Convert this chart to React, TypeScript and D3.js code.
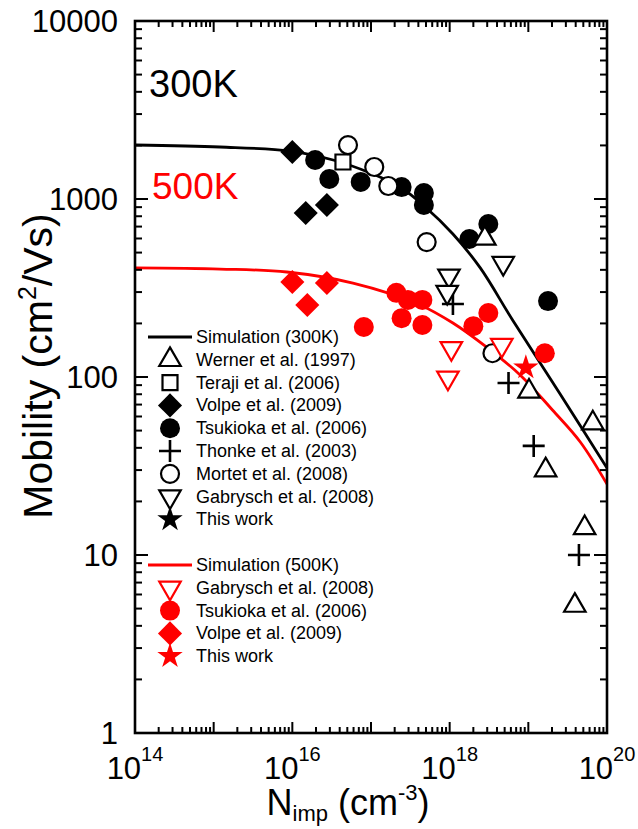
import React from "react";
import * as d3 from "d3";

// ---------- data ----------
const sim300N = [1e14, 1.2e15, 9.3e15, 3.3e16, 9.8e16, 2.34e17, 4.9e17, 1.1e18, 2.45e18, 6.3e18, 2.5e19, 1e20];
const sim300Mu = [2011, 1960, 1860, 1656, 1400, 1167, 902, 636, 410, 209, 81, 30.8];
const sim500N = [1e14, 1.2e15, 8.5e15, 5.9e16, 4.2e17, 1.1e18, 2.95e18, 7.8e18, 2.04e19, 4.6e19, 1e20];
const sim500Mu = [410, 404, 389, 337, 254, 201, 147, 103, 65, 43, 25];

const wernerN = [2.8e18, 1.02e19, 6.6e19, 1.66e19, 5.2e19, 3.9e19];
const wernerMu = [600, 83, 55, 30, 14.2, 5.2];
const terajiN = [4.4e16];
const terajiMu = [1614];
const volpe300N = [1.0e16, 1.48e16, 2.75e16];
const volpe300Mu = [1837, 834, 925];
const tsukioka300N = [1.95e16, 2.95e16, 7.4e16, 2.45e17, 4.7e17, 4.7e17, 1.78e18, 3.1e18, 1.78e19];
const tsukioka300Mu = [1656, 1295, 1247, 1167, 1081, 925, 596, 724, 267];
const thonkeN = [1.1e18, 5.6e18, 1.17e19, 4.4e19];
const thonkeMu = [257, 92.5, 41, 10];
const mortetN = [5.1e16, 1.1e17, 1.66e17, 5.1e17, 3.5e18];
const mortetMu = [2010, 1513, 1183, 573, 136];
const gabrysch300N = [9.8e17, 9.3e17, 4.8e18];
const gabrysch300Mu = [370, 300, 436];

const gabrysch500N = [1.05e18, 9.5e17, 4.6e18];
const gabrysch500Mu = [145, 99, 151];
const tsukioka500N = [2.1e17, 2.95e17, 4.5e17, 2.45e17, 4.5e17, 8.1e16, 2.0e18, 3.1e18, 1.62e19];
const tsukioka500Mu = [297, 271, 271, 214, 196, 191, 193, 229, 136];
const volpe500N = [1.0e16, 2.75e16, 1.55e16];
const volpe500Mu = [342, 337, 254];
const thisWork500N = [9.3e18];
const thisWork500Mu = [113];

const xTickExps = [14, 15, 16, 17, 18, 19, 20];
const xLabelExps = [14, 16, 18, 20];
const yTickExps = [0, 1, 2, 3, 4];
const yTickLabels = ["1", "10", "100", "1000", "10000"];

const legend300 = [
  "Simulation (300K)",
  "Werner et al. (1997)",
  "Teraji et al. (2006)",
  "Volpe et al. (2009)",
  "Tsukioka et al. (2006)",
  "Thonke et al. (2003)",
  "Mortet et al. (2008)",
  "Gabrysch et al. (2008)",
  "This work",
];
const legend500 = [
  "Simulation (500K)",
  "Gabrysch et al. (2008)",
  "Tsukioka et al. (2006)",
  "Volpe et al. (2009)",
  "This work",
];

// ---------- layout ----------
const W = 638;
const H = 829;
const L = 135, R = 607, T = 21, B = 733;
const FONT = "'Liberation Sans', Arial, Helvetica, sans-serif";
const RED = "#ff0000";

const x = d3.scaleLog().domain([1e14, 1e20]).range([L, R]);
const y = d3.scaleLog().domain([1, 10000]).range([B, T]);

type Kind = "circle" | "ocircle" | "square" | "diamond" | "tri" | "tridown" | "plus" | "star";

function Marker({ kind, cx, cy, color }: { kind: Kind; cx: number; cy: number; color: string }) {
  const sw = 2.2;
  if (kind === "circle")
    return <circle cx={cx} cy={cy} r={10} fill={color} />;
  if (kind === "ocircle")
    return <circle cx={cx} cy={cy} r={9} fill="white" stroke={color} strokeWidth={sw} />;
  if (kind === "square")
    return <path d={d3.symbol(d3.symbolSquare, 225)()!} transform={`translate(${cx},${cy})`} fill="white" stroke={color} strokeWidth={sw} />;
  if (kind === "diamond")
    return <path d={d3.symbol(d3.symbolSquare, 290)()!} transform={`translate(${cx},${cy}) rotate(45)`} fill={color} />;
  if (kind === "tri")
    return <path d={d3.symbol(d3.symbolTriangle, 200)()!} transform={`translate(${cx},${cy})`} fill="white" stroke={color} strokeWidth={sw} />;
  if (kind === "tridown")
    return <path d={d3.symbol(d3.symbolTriangle, 200)()!} transform={`translate(${cx},${cy}) rotate(180)`} fill="white" stroke={color} strokeWidth={sw} />;
  if (kind === "plus")
    return <path d={`M${cx - 11},${cy}H${cx + 11}M${cx},${cy - 11}V${cy + 11}`} stroke={color} strokeWidth={2.6} fill="none" />;
  return <path d={d3.symbol(d3.symbolStar, 200)()!} transform={`translate(${cx},${cy})`} fill={color} />;
}

function Series({ N, Mu, kind, color }: { N: number[]; Mu: number[]; kind: Kind; color: string }) {
  return (
    <g>
      {N.map((n, i) => (
        <Marker key={i} kind={kind} cx={x(n)} cy={y(Mu[i])} color={color} />
      ))}
    </g>
  );
}

export default function App() {
  const path300 = d3
    .line<number>()
    .x((_, i) => x(sim300N[i]))
    .y((d) => y(d))
    .curve(d3.curveCatmullRom.alpha(0.5))(sim300Mu);
  const path500 = d3
    .line<number>()
    .x((_, i) => x(sim500N[i]))
    .y((d) => y(d))
    .curve(d3.curveCatmullRom.alpha(0.5))(sim500Mu);

  // ticks
  const xMinor: number[] = [];
  for (let e = 14; e < 20; e++) for (let k = 2; k <= 9; k++) xMinor.push(k * Math.pow(10, e));
  const yMinor: number[] = [];
  for (let e = 0; e < 4; e++) for (let k = 2; k <= 9; k++) yMinor.push(k * Math.pow(10, e));

  const legendSym300: (Kind | "line")[] = ["line", "tri", "square", "diamond", "circle", "plus", "ocircle", "tridown", "star"];
  const legendSym500: (Kind | "line")[] = ["line", "tridown", "circle", "diamond", "star"];
  const leg300Y = 337, leg500Y = 565, legStep = 22.8;
  const symX = 170;

  return (
    <svg width={W} height={H} style={{ position: "absolute", left: 0, top: 0, background: "white" }} fontFamily={FONT}>
      <rect x={0} y={0} width={W} height={H} fill="white" />
      <defs>
        <clipPath id="plotclip">
          <rect x={L} y={T} width={R - L} height={B - T} />
        </clipPath>
      </defs>
      {/* simulation curves */}
      <g clipPath="url(#plotclip)">
        <path d={path300!} fill="none" stroke="black" strokeWidth={2.8} />
        <path d={path500!} fill="none" stroke={RED} strokeWidth={2.8} />
      </g>

      {/* data */}
      <Series N={volpe300N} Mu={volpe300Mu} kind="diamond" color="black" />
      <Series N={tsukioka300N} Mu={tsukioka300Mu} kind="circle" color="black" />
      <Series N={terajiN} Mu={terajiMu} kind="square" color="black" />
      <Series N={mortetN} Mu={mortetMu} kind="ocircle" color="black" />
      <Series N={wernerN} Mu={wernerMu} kind="tri" color="black" />
      <Series N={thonkeN} Mu={thonkeMu} kind="plus" color="black" />
      <Series N={gabrysch300N} Mu={gabrysch300Mu} kind="tridown" color="black" />
      <Series N={volpe500N} Mu={volpe500Mu} kind="diamond" color={RED} />
      <Series N={tsukioka500N} Mu={tsukioka500Mu} kind="circle" color={RED} />
      <Series N={gabrysch500N} Mu={gabrysch500Mu} kind="tridown" color={RED} />
      <Series N={thisWork500N} Mu={thisWork500Mu} kind="star" color={RED} />

      {/* frame */}
      <rect x={L} y={T} width={R - L} height={B - T} fill="none" stroke="black" strokeWidth={2.6} />

      {/* x ticks */}
      {xTickExps.map((e) => {
        const px = x(Math.pow(10, e));
        return (
          <g key={"xt" + e}>
            <line x1={px} x2={px} y1={B} y2={B - 11} stroke="black" strokeWidth={2} />
            <line x1={px} x2={px} y1={T} y2={T + 11} stroke="black" strokeWidth={2} />
          </g>
        );
      })}
      {xMinor.map((v, i) => {
        const px = x(v);
        return (
          <g key={"xm" + i}>
            <line x1={px} x2={px} y1={B} y2={B - 6} stroke="black" strokeWidth={2} />
            <line x1={px} x2={px} y1={T} y2={T + 6} stroke="black" strokeWidth={2} />
          </g>
        );
      })}
      {/* y ticks */}
      {yTickExps.map((e) => {
        const py = y(Math.pow(10, e));
        return (
          <g key={"yt" + e}>
            <line x1={L} x2={L + 13} y1={py} y2={py} stroke="black" strokeWidth={2} />
            <line x1={R} x2={R - 13} y1={py} y2={py} stroke="black" strokeWidth={2} />
          </g>
        );
      })}
      {yMinor.map((v, i) => {
        const py = y(v);
        return (
          <g key={"ym" + i}>
            <line x1={L} x2={L + 7} y1={py} y2={py} stroke="black" strokeWidth={2} />
            <line x1={R} x2={R - 7} y1={py} y2={py} stroke="black" strokeWidth={2} />
          </g>
        );
      })}

      {/* tick labels */}
      {yTickExps.map((e, i) => (
        <text key={"yl" + e} x={118} y={y(Math.pow(10, e)) + 11} textAnchor="end" fontSize={31}>
          {yTickLabels[i]}
        </text>
      ))}
      {xLabelExps.map((e) => (
        <text key={"xl" + e} x={x(Math.pow(10, e))} y={779} textAnchor="middle" fontSize={31}>
          10
          <tspan fontSize={20} dy={-18}>{e}</tspan>
        </text>
      ))}

      {/* axis titles */}
      <text x={348} y={815} textAnchor="middle" fontSize={36}>
        N<tspan fontSize={22} dy={6}>imp</tspan>
        <tspan dy={-6}> (cm</tspan>
        <tspan fontSize={22} dy={-15}>-3</tspan>
        <tspan dy={15}>)</tspan>
      </text>
      <text transform={`translate(52,${366}) rotate(-90)`} textAnchor="middle" fontSize={41}>
        Mobility (cm<tspan fontSize={25} dy={-16}>2</tspan>
        <tspan dy={16}>/Vs)</tspan>
      </text>

      {/* temperature labels */}
      <text x={149} y={97} fontSize={38}>300K</text>
      <text x={152} y={199} fontSize={37} fill={RED}>500K</text>

      {/* legend */}
      {legend300.map((t, i) => {
        const ly = leg300Y + i * legStep;
        const s = legendSym300[i];
        return (
          <g key={"l3" + i}>
            {s === "line" ? (
              <line x1={148} x2={192} y1={ly} y2={ly} stroke="black" strokeWidth={2.8} />
            ) : (
              <Marker kind={s} cx={symX} cy={ly} color="black" />
            )}
            <text x={196} y={ly + 6} fontSize={18}>{t}</text>
          </g>
        );
      })}
      {legend500.map((t, i) => {
        const ly = leg500Y + i * legStep;
        const s = legendSym500[i];
        return (
          <g key={"l5" + i}>
            {s === "line" ? (
              <line x1={148} x2={192} y1={ly} y2={ly} stroke={RED} strokeWidth={2.8} />
            ) : (
              <Marker kind={s} cx={symX} cy={ly} color={RED} />
            )}
            <text x={196} y={ly + 6} fontSize={18}>{t}</text>
          </g>
        );
      })}
    </svg>
  );
}
